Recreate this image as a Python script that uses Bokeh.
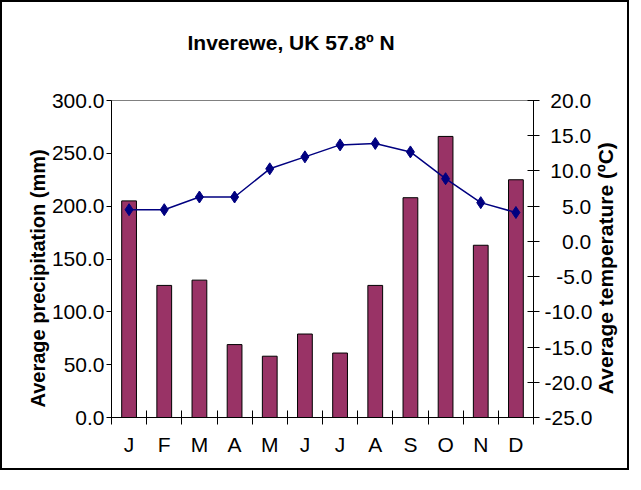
import math
from bokeh.plotting import figure
from bokeh.models import LinearAxis, Range1d, FixedTicker, NumeralTickFormatter
from bokeh.embed import file_html
from bokeh.resources import INLINE

months = ["J", "F", "M", "A", "M", "J", "J", "A", "S", "O", "N", "D"]
precip = [205, 125, 130, 69, 58, 79, 61, 125, 208, 266, 163, 225]
temp = [4.5, 4.5, 6.3, 6.3, 10.3, 12.0, 13.7, 13.9, 12.7, 8.9, 5.5, 4.1]
precip_ticks = [0, 50, 100, 150, 200, 250, 300]
temp_ticks = [-25, -20, -15, -10, -5, 0, 5, 10, 15, 20]
title_text = "Inverewe, UK 57.8º N"

FONT = "Liberation Sans"
NB = "\u00a0"
xc = [i + 0.5 for i in range(len(months))]

W, H = 629, 470
BL, BR, BT, BB = 109, 91, 98, 55

p = figure(width=W, height=H, x_range=Range1d(0, len(months)),
           y_range=Range1d(0, 300), output_backend="svg", toolbar_location=None,
           min_border_left=BL, min_border_right=BR, min_border_top=BT,
           min_border_bottom=BB)
p.styles = {"border": "2px solid black"}
p.extra_y_ranges = {"temp": Range1d(-25, 20)}
p.xgrid.visible = False
p.ygrid.visible = False
p.outline_line_color = "#808080"
p.outline_line_width = 1

p.title.text = title_text + "\n" + NB
p.title.text_font = FONT
p.title.text_font_size = "21px"
p.title.text_font_style = "bold"
p.title.text_color = "black"
p.title.align = "left"
p.title.offset = 76
p.title.standoff = 48

# bars
p.vbar(x=xc, top=precip, bottom=0, width=0.42, fill_color="#993366",
       line_color="black", line_width=1)
# temperature line
p.line(xc, temp, y_range_name="temp", line_color="#000080", line_width=1.5)
p.scatter(xc, temp, y_range_name="temp", marker="diamond", size=12,
          fill_color="#000080", line_color="#000080")

def style_axis(ax, label_size="20px"):
    ax.axis_line_color = "black"
    ax.major_tick_line_color = "black"
    ax.minor_tick_line_color = "black"
    ax.major_label_text_font = FONT
    ax.major_label_text_font_size = "21px"
    ax.major_label_text_color = "black"
    ax.axis_label_text_font = FONT
    ax.axis_label_text_font_size = label_size
    ax.axis_label_text_font_style = "bold"
    ax.axis_label_text_color = "black"

# left axis
ly = p.yaxis[0]
ly.ticker = FixedTicker(ticks=precip_ticks)
ly.formatter = NumeralTickFormatter(format="0.0")
ly.major_tick_in = 0
ly.major_tick_out = 5
ly.major_label_standoff = 2
ly.axis_label = "Average precipitation (mm)" + NB * 7
ly.axis_label_standoff = 0
style_axis(ly)

# right axis (labels padded so they line up on the right like the original)
def pad(v):
    s = f"{v:.1f}"
    n = {5: 0, 4: 1}.get(len(s), 3)
    if s.startswith("-") and len(s) == 4:
        n = 2
    return NB * n + s

ry = LinearAxis(y_range_name="temp", ticker=FixedTicker(ticks=temp_ticks))
ry.major_label_overrides = {v: pad(v) for v in temp_ticks}
ry.major_tick_in = 6
ry.major_tick_out = 6
ry.major_label_standoff = 5
ry.axis_label_standoff = 10
ry.axis_label_orientation = math.pi / 2
aligned = False
try:
    ry.axis_label_align = "start"
    aligned = True
except Exception:
    try:
        ry.axis_label_align = "left"
        aligned = True
    except Exception:
        aligned = False
if aligned:
    ry.axis_label = NB * 4 + "Average temperature (ºC)"
else:
    ry.axis_label = "Average temperature (ºC)"
style_axis(ry, "21px")
p.add_layout(ry, "right")

# x axis
bx = p.xaxis[0]
bx.ticker = FixedTicker(ticks=xc, minor_ticks=list(range(len(months) + 1)))
bx.major_label_overrides = {x: m for x, m in zip(xc, months)}
bx.major_tick_in = 0
bx.major_tick_out = 0
bx.minor_tick_in = 7
bx.minor_tick_out = 7
bx.major_label_standoff = 8
style_axis(bx)

open("out.html", "w").write(file_html(p, INLINE))
